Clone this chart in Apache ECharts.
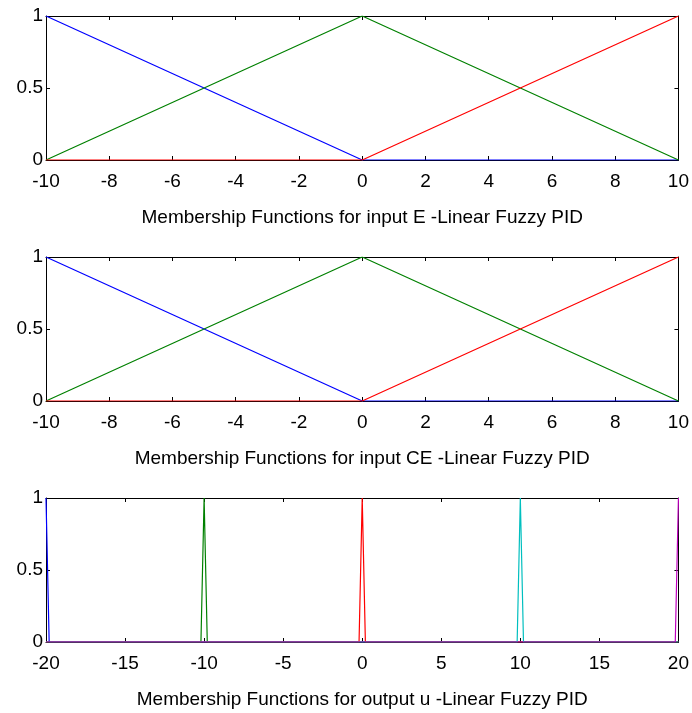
<!DOCTYPE html>
<html>
<head>
<meta charset="utf-8">
<script src="https://cdn.jsdelivr.net/npm/echarts@6/dist/echarts.min.js"></script>
<style>
  html, body { margin: 0; padding: 0; background: #fff; }
  #chart { width: 692px; height: 713px; }
</style>
</head>
<body>
<div id="chart"></div>
<script>
// Input universe (E and CE) and the three triangular membership functions
const inputX = [-10, 0, 10];
const mfNeg = [1, 0, 0];
const mfZero = [0, 1, 0];
const mfPos = [0, 0, 1];

// Output u: five narrow triangles (singleton-like) over [-20, 20]
const uNB_x = [-20, -19.8, 20];
const uNB_y = [1, 0, 0];
const uNS_x = [-20, -10.2, -10, -9.8, 20];
const uNS_y = [0, 0, 1, 0, 0];
const uZ_x = [-20, -0.2, 0, 0.2, 20];
const uZ_y = [0, 0, 1, 0, 0];
const uPS_x = [-20, 9.8, 10, 10.2, 20];
const uPS_y = [0, 0, 1, 0, 0];
const uPB_x = [-20, 19.8, 20];
const uPB_y = [0, 0, 1];

// Axis ticks
const inputTicks = { min: -10, max: 10, interval: 2 };
const outputTicks = { min: -20, max: 20, interval: 5 };
const yTicks = { min: 0, max: 1, interval: 0.5 };

const titles = [
  'Membership Functions for input E -Linear Fuzzy PID',
  'Membership Functions for input CE -Linear Fuzzy PID',
  'Membership Functions for output u -Linear Fuzzy PID'
];

const FONT = '"Liberation Sans", Arial, sans-serif';
const colors = ['#0000ff', '#008000', '#ff0000', '#00bfbf', '#bf00bf'];

const pairs = (xs, ys) => xs.map((x, i) => [x, ys[i]]);

const grids = [
  { left: 46, right: 11, top: 16, height: 144 },
  { left: 46, right: 11, top: 257, height: 144 },
  { left: 46, right: 11, top: 498, height: 144 }
];

const xAxes = [];
const yAxes = [];
const ranges = [inputTicks, inputTicks, outputTicks];

const boxLine = { show: true, onZero: false, lineStyle: { color: '#000', width: 1 } };
const inTick = { show: true, inside: true, length: 4, lineStyle: { color: '#000' } };

grids.forEach((g, i) => {
  const r = ranges[i];
  // bottom axis with labels and panel caption
  xAxes.push({
    type: 'value', gridIndex: i, position: 'bottom',
    min: r.min, max: r.max, interval: r.interval,
    axisLine: boxLine, axisTick: inTick,
    axisLabel: { show: true, color: '#000', fontFamily: FONT, fontSize: 19, margin: 12 },
    splitLine: { show: false },
    name: titles[i], nameLocation: 'middle', nameGap: 48,
    nameTextStyle: { color: '#000', fontFamily: FONT, fontSize: 19 }
  });
  // top box edge with inward ticks
  xAxes.push({
    type: 'value', gridIndex: i, position: 'top',
    min: r.min, max: r.max, interval: r.interval,
    axisLine: boxLine, axisTick: inTick,
    axisLabel: { show: false },
    splitLine: { show: false }
  });
  yAxes.push({
    type: 'value', gridIndex: i, position: 'left',
    min: yTicks.min, max: yTicks.max, interval: yTicks.interval,
    axisLine: boxLine, axisTick: inTick,
    axisLabel: { show: true, color: '#000', fontFamily: FONT, fontSize: 19, margin: 3 },
    splitLine: { show: false }
  });
  // right box edge with inward ticks
  yAxes.push({
    type: 'value', gridIndex: i, position: 'right',
    min: yTicks.min, max: yTicks.max, interval: yTicks.interval,
    axisLine: boxLine, axisTick: inTick,
    axisLabel: { show: false },
    splitLine: { show: false }
  });
});

function mfLine(panel, data, color) {
  return {
    type: 'line', xAxisIndex: panel * 2, yAxisIndex: panel * 2,
    data: data, showSymbol: false, symbol: 'none', animation: false,
    lineStyle: { color: color, width: 1.2 }, z: 3
  };
}

const series = [];
[0, 1].forEach(p => {
  series.push(mfLine(p, pairs(inputX, mfNeg), colors[0]));
  series.push(mfLine(p, pairs(inputX, mfZero), colors[1]));
  series.push(mfLine(p, pairs(inputX, mfPos), colors[2]));
});
series.push(mfLine(2, pairs(uNB_x, uNB_y), colors[0]));
series.push(mfLine(2, pairs(uNS_x, uNS_y), colors[1]));
series.push(mfLine(2, pairs(uZ_x, uZ_y), colors[2]));
series.push(mfLine(2, pairs(uPS_x, uPS_y), colors[3]));
series.push(mfLine(2, pairs(uPB_x, uPB_y), colors[4]));

const chart = echarts.init(document.getElementById('chart'), null, { renderer: 'canvas' });
chart.setOption({
  backgroundColor: '#fff',
  animation: false,
  grid: grids,
  xAxis: xAxes,
  yAxis: yAxes,
  series: series
});
</script>
</body>
</html>
